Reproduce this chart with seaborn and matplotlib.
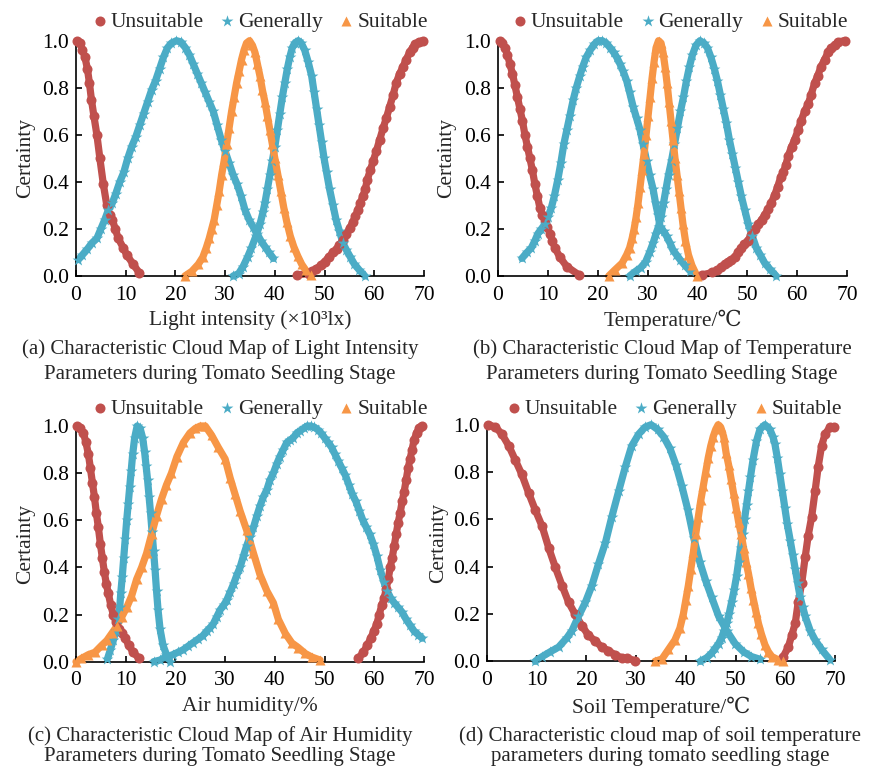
import matplotlib
matplotlib.use("Agg")
import matplotlib.pyplot as plt
import seaborn as sns
import pandas as pd

# ---- data (x, certainty) ----
# (a) light intensity
A_UNS1_X = [0.3, 0.8, 1.3, 1.8, 2.3, 2.7, 3.1, 3.6, 4.2, 4.8, 5.5, 6.2, 6.8, 7.3, 7.9, 8.5, 9.5, 10.2, 11.5, 12.7]
A_UNS1_Y = [1.0, 0.99, 0.96, 0.93, 0.88, 0.82, 0.75, 0.68, 0.6, 0.5, 0.39, 0.3, 0.26, 0.24, 0.2, 0.16, 0.12, 0.09, 0.05, 0.014]
A_UNS2_X = [44.5, 46.8, 47.5, 48.3, 49.2, 50.0, 50.8, 51.7, 52.4, 53.0, 53.7, 54.4, 55.1, 55.7, 56.2, 56.7, 57.2, 57.7, 58.2,
            58.6, 59.2, 59.8, 60.4, 61.1, 61.8, 62.4, 63.1, 63.8, 64.4, 65.1, 65.8, 66.4, 67.1, 67.7, 68.2, 69.0, 69.8]
A_UNS2_Y = [0.005, 0.01, 0.02, 0.03, 0.045, 0.06, 0.08, 0.1, 0.115, 0.13, 0.155, 0.18, 0.205, 0.23, 0.255, 0.28, 0.31, 0.34, 0.37,
            0.41, 0.45, 0.49, 0.53, 0.58, 0.63, 0.67, 0.72, 0.77, 0.82, 0.86, 0.89, 0.92, 0.95, 0.97, 0.985, 0.995, 1.0]
A_GEN1_X = [0.5, 1.3, 2.3, 3.2, 4.2, 5.0, 5.8, 6.5, 7.3, 8.0, 8.8, 9.6, 10.4, 11.2, 12.0, 12.8, 13.6, 14.4, 15.2, 16.0, 16.8,
            17.6, 18.4, 19.2, 20.2, 21.1, 22.0, 22.8, 23.6, 24.4, 25.2, 26.0, 26.8, 27.6, 28.4, 29.2, 30.0, 30.8, 31.6, 32.4,
            33.2, 34.0, 34.8, 35.6, 36.4, 37.2, 38.0, 38.8, 39.7]
A_GEN1_Y = [0.07, 0.09, 0.115, 0.14, 0.16, 0.2, 0.24, 0.28, 0.31, 0.35, 0.4, 0.44, 0.5, 0.55, 0.59, 0.64, 0.69, 0.74, 0.79, 0.83,
            0.88, 0.93, 0.97, 0.99, 1.0, 0.995, 0.97, 0.94, 0.9, 0.86, 0.82, 0.78, 0.74, 0.7, 0.64, 0.58, 0.53, 0.48, 0.43, 0.39,
            0.34, 0.28, 0.24, 0.21, 0.18, 0.15, 0.125, 0.1, 0.075]
A_GEN2_X = [31.6, 32.7, 33.6, 34.5, 35.3, 36.2, 37.0, 37.6, 38.0, 38.5, 39.0, 39.5, 40.0, 40.5, 41.0, 41.5, 42.0, 42.5, 43.0,
            43.5, 44.0, 44.7, 45.3, 46.0, 46.7, 47.4, 47.9, 48.4, 48.9, 49.4, 49.9, 50.4, 51.0, 51.7, 52.3, 53.0, 53.7, 54.4,
            55.2, 56.0, 57.0, 58.1]
A_GEN2_Y = [0.0, 0.01, 0.04, 0.08, 0.12, 0.17, 0.22, 0.27, 0.31, 0.37, 0.43, 0.49, 0.55, 0.62, 0.69, 0.76, 0.82, 0.88, 0.93,
            0.97, 0.99, 1.0, 0.99, 0.96, 0.91, 0.85, 0.78, 0.71, 0.64, 0.57, 0.5, 0.44, 0.37, 0.3, 0.24, 0.19, 0.14, 0.11,
            0.08, 0.05, 0.025, 0.0]
A_SUIT_X = [21.9, 23.3, 24.6, 25.5, 26.2, 26.8, 27.3, 27.8, 28.3, 28.8, 29.3, 29.8, 30.3, 30.8, 31.3, 31.8, 32.3, 32.8, 33.3,
            33.8, 34.3, 34.9, 35.5, 36.0, 36.5, 37.0, 37.5, 38.0, 38.5, 39.0, 39.5, 40.0, 40.6, 41.2, 41.8, 42.4, 43.1, 43.8,
            44.6, 45.4, 46.2, 47.2]
A_SUIT_Y = [0.0, 0.02, 0.05, 0.08, 0.12, 0.16, 0.2, 0.24, 0.3, 0.36, 0.43, 0.49, 0.56, 0.63, 0.7, 0.76, 0.82, 0.87, 0.92,
            0.96, 0.99, 1.0, 0.98, 0.95, 0.9, 0.85, 0.79, 0.74, 0.68, 0.62, 0.56, 0.5, 0.43, 0.36, 0.29, 0.23, 0.17, 0.125,
            0.085, 0.05, 0.025, 0.005]

# (b) temperature
B_UNS1_X = [0.4, 0.9, 1.4, 1.9, 2.4, 2.9, 3.4, 3.9, 4.4, 4.9, 5.4, 5.9, 6.4, 6.9, 7.4, 7.9, 8.4, 8.9, 9.4, 9.9, 10.4, 10.9,
            11.4, 12.4, 13.8, 16.2]
B_UNS1_Y = [1.0, 0.99, 0.97, 0.94, 0.9, 0.86, 0.81, 0.76, 0.71, 0.66, 0.6, 0.55, 0.5, 0.45, 0.39, 0.34, 0.29, 0.26, 0.24, 0.21,
            0.18, 0.15, 0.12, 0.08, 0.04, 0.005]
B_UNS2_X = [41.0, 43.0, 44.0, 44.8, 45.5, 46.1, 46.8, 47.5, 48.1, 48.8, 49.4, 50.1, 50.8, 51.5, 52.2, 52.9, 53.5, 54.2, 54.8,
            55.5, 56.1, 56.7, 57.2, 57.7, 58.2, 58.9, 59.5, 60.2, 60.8, 61.5, 62.2, 62.8, 63.5, 64.1, 64.8, 65.5, 66.2, 66.8,
            67.5, 68.2, 69.5]
B_UNS2_Y = [0.005, 0.015, 0.025, 0.04, 0.05, 0.06, 0.07, 0.08, 0.1, 0.12, 0.135, 0.15, 0.175, 0.2, 0.22, 0.24, 0.26, 0.285,
            0.31, 0.345, 0.38, 0.42, 0.44, 0.47, 0.51, 0.55, 0.58, 0.62, 0.66, 0.7, 0.73, 0.77, 0.82, 0.85, 0.89, 0.92, 0.95,
            0.97, 0.98, 0.995, 1.0]
B_GEN1_X = [4.8, 5.8, 6.7, 7.4, 8.0, 8.7, 9.4, 10.0, 10.7, 11.3, 12.0, 12.6, 13.2, 13.8, 14.4, 15.1, 15.7, 16.4, 17.0, 17.7,
            18.5, 19.3, 20.1, 20.9, 21.7, 22.5, 23.2, 23.8, 24.5, 25.1, 25.8, 26.4, 27.1, 27.8, 28.5, 29.1, 29.8, 30.4, 31.1,
            31.6, 32.1, 32.5, 33.2, 33.8, 34.5, 35.1, 35.8, 36.5, 37.5, 38.6]
B_GEN1_Y = [0.075, 0.1, 0.12, 0.15, 0.18, 0.2, 0.22, 0.25, 0.29, 0.34, 0.41, 0.48, 0.56, 0.62, 0.68, 0.75, 0.8, 0.85, 0.89,
            0.93, 0.96, 0.985, 1.0, 1.0, 0.99, 0.97, 0.95, 0.93, 0.9, 0.87, 0.83, 0.78, 0.72, 0.67, 0.62, 0.56, 0.49, 0.43,
            0.37, 0.31, 0.26, 0.21, 0.19, 0.17, 0.14, 0.11, 0.09, 0.07, 0.045, 0.02]
B_GEN2_X = [26.4, 27.6, 28.6, 29.6, 30.4, 31.1, 31.7, 32.2, 32.7, 33.2, 33.7, 34.2, 34.8, 35.4, 36.0, 36.6, 37.2, 37.8, 38.4,
            39.0, 39.7, 40.5, 41.3, 42.0, 42.7, 43.4, 44.0, 44.6, 45.2, 45.8, 46.4, 47.0, 47.6, 48.2, 48.8, 49.5, 50.2, 51.0,
            51.8, 52.6, 53.5, 54.5, 55.8]
B_GEN2_Y = [0.0, 0.02, 0.035, 0.06, 0.1, 0.14, 0.18, 0.21, 0.25, 0.31, 0.37, 0.43, 0.49, 0.56, 0.63, 0.7, 0.76, 0.83, 0.89,
            0.94, 0.98, 1.0, 0.99, 0.97, 0.93, 0.88, 0.83, 0.77, 0.71, 0.65, 0.58, 0.52, 0.46, 0.4, 0.34, 0.28, 0.22, 0.17,
            0.12, 0.09, 0.055, 0.03, 0.0]
B_SUIT_X = [22.2, 23.4, 24.9, 25.8, 26.4, 26.9, 27.3, 27.7, 28.1, 28.5, 28.9, 29.3, 29.7, 30.1, 30.5, 30.9, 31.3, 31.7, 32.2,
            32.7, 33.1, 33.5, 33.9, 34.3, 34.7, 35.1, 35.5, 35.9, 36.3, 36.7, 37.1, 37.6, 38.2, 38.9, 39.9]
B_SUIT_Y = [0.0, 0.025, 0.055, 0.09, 0.12, 0.16, 0.2, 0.25, 0.31, 0.38, 0.45, 0.52, 0.6, 0.68, 0.76, 0.84, 0.91, 0.97, 1.0,
            0.99, 0.95, 0.89, 0.82, 0.74, 0.66, 0.58, 0.5, 0.43, 0.36, 0.29, 0.22, 0.15, 0.09, 0.045, 0.0]

# (c) air humidity
C_UNS1_X = [0.3, 0.9, 1.5, 2.0, 2.5, 2.9, 3.3, 3.7, 4.1, 4.5, 4.9, 5.3, 5.7, 6.1, 6.5, 7.0, 7.5, 8.0, 8.6, 9.2, 9.9, 10.6,
            11.5, 12.7]
C_UNS1_Y = [1.0, 0.99, 0.97, 0.93, 0.88, 0.82, 0.76, 0.7, 0.63, 0.57, 0.5, 0.44, 0.38, 0.33, 0.29, 0.24, 0.2, 0.17, 0.14,
            0.12, 0.1, 0.07, 0.04, 0.014]
C_UNS2_X = [56.8, 57.8, 58.6, 59.3, 59.9, 60.5, 61.0, 61.5, 62.0, 62.4, 62.8, 63.2, 63.6, 64.0, 64.4, 64.8, 65.2, 65.6, 66.0,
            66.4, 66.8, 67.2, 67.6, 68.0, 68.5, 69.0, 69.5]
C_UNS2_Y = [0.014, 0.04, 0.07, 0.1, 0.13, 0.16, 0.2, 0.24, 0.27, 0.31, 0.35, 0.4, 0.44, 0.49, 0.54, 0.59, 0.63, 0.68, 0.72,
            0.77, 0.82, 0.86, 0.9, 0.94, 0.97, 0.99, 1.0]
C_GEN1_X = [6.3, 6.9, 7.5, 8.0, 8.5, 8.8, 9.0, 9.3, 9.6, 9.9, 10.2, 10.5, 10.8, 11.1, 11.4, 11.8, 12.3, 12.9, 13.4, 13.8,
            14.1, 14.4, 14.7, 15.0, 15.3, 15.6, 15.9, 16.2, 16.5, 16.9, 17.5, 18.2, 18.9]
C_GEN1_Y = [0.01, 0.05, 0.09, 0.13, 0.18, 0.23, 0.29, 0.36, 0.44, 0.52, 0.6, 0.67, 0.74, 0.81, 0.88, 0.95, 1.0, 0.99, 0.95,
            0.89, 0.83, 0.77, 0.7, 0.63, 0.55, 0.47, 0.39, 0.3, 0.22, 0.14, 0.07, 0.03, 0.0]
C_GEN2_X = [15.6, 16.9, 18.2, 19.5, 20.5, 21.5, 22.5, 23.5, 24.5, 25.5, 26.3, 27.0, 27.6, 28.3, 29.0, 29.7, 30.3, 31.0, 31.7,
            32.4, 33.0, 33.7, 34.3, 35.0, 35.7, 36.4, 37.0, 37.7, 38.4, 39.0, 39.7, 40.4, 41.0, 41.7, 42.4, 43.1, 43.7, 44.4,
            45.1, 45.8, 46.5, 47.2, 47.9, 48.6, 49.3, 50.0, 50.7, 51.4, 52.1, 52.8, 53.5, 54.2, 54.9, 55.6, 56.3, 57.0, 57.7,
            58.4, 59.1, 59.8, 60.5, 61.2, 61.9, 62.6, 63.3, 64.0, 64.8, 65.6, 66.4, 67.2, 68.0, 68.8, 69.6]
C_GEN2_Y = [0.0, 0.007, 0.02, 0.03, 0.04, 0.05, 0.065, 0.08, 0.095, 0.11, 0.13, 0.145, 0.16, 0.19, 0.22, 0.24, 0.26, 0.295,
            0.33, 0.37, 0.4, 0.45, 0.49, 0.53, 0.57, 0.62, 0.66, 0.7, 0.73, 0.77, 0.8, 0.84, 0.87, 0.9, 0.93, 0.94, 0.95, 0.97,
            0.98, 0.99, 1.0, 1.0, 0.995, 0.985, 0.97, 0.95, 0.93, 0.91, 0.88, 0.85, 0.82, 0.79, 0.75, 0.71, 0.68, 0.64, 0.6,
            0.57, 0.54, 0.5, 0.45, 0.39, 0.34, 0.3, 0.27, 0.25, 0.23, 0.21, 0.18, 0.155, 0.13, 0.115, 0.1]
C_SUIT_X = [0.0, 1.1, 2.5, 3.8, 5.2, 6.2, 7.2, 8.2, 9.2, 10.2, 11.2, 12.2, 13.2, 14.2, 15.2, 16.2, 17.2, 18.2, 19.2, 20.3,
            21.6, 22.9, 24.0, 25.0, 26.0, 27.3, 28.6, 30.0, 31.0, 32.0, 33.0, 34.3, 35.7, 37.0, 38.4, 39.7, 40.7, 42.1, 43.4,
            44.7, 46.1, 47.4, 49.1]
C_SUIT_Y = [0.0, 0.014, 0.03, 0.04, 0.07, 0.09, 0.12, 0.15, 0.19, 0.23, 0.28, 0.35, 0.4, 0.46, 0.54, 0.62, 0.69, 0.75, 0.8,
            0.87, 0.93, 0.97, 0.99, 1.0, 1.0, 0.96, 0.91, 0.86, 0.78, 0.71, 0.64, 0.56, 0.46, 0.37, 0.3, 0.25, 0.18, 0.12,
            0.08, 0.06, 0.035, 0.02, 0.007]

# (d) soil temperature
D_UNS1_X = [0.3, 1.7, 3.0, 4.4, 5.7, 7.0, 8.4, 9.7, 11.1, 12.4, 13.7, 15.1, 16.4, 17.7, 19.1, 20.4, 21.8, 23.1, 24.4, 25.8,
            27.1, 28.1, 29.8]
D_UNS1_Y = [1.0, 0.99, 0.96, 0.91, 0.85, 0.79, 0.71, 0.64, 0.57, 0.48, 0.4, 0.32, 0.25, 0.2, 0.15, 0.11, 0.085, 0.06, 0.045,
            0.027, 0.015, 0.013, 0.003]
D_UNS2_X = [59.6, 60.6, 61.3, 62.0, 62.6, 63.3, 64.0, 64.6, 65.3, 66.0, 66.6, 67.3, 68.0, 69.0, 69.7]
D_UNS2_Y = [0.02, 0.06, 0.11, 0.16, 0.25, 0.33, 0.44, 0.53, 0.61, 0.72, 0.82, 0.91, 0.96, 0.99, 0.99]
D_GEN1_X = [9.7, 11.1, 12.7, 14.4, 16.1, 17.1, 18.4, 19.8, 21.1, 22.4, 23.8, 25.1, 26.5, 27.8, 29.1, 30.5, 31.8, 33.0, 34.3,
            35.5, 36.8, 38.0, 39.2, 40.4, 41.6, 42.8, 44.0, 45.2, 46.6, 48.2, 49.9, 51.6, 53.2, 55.0]
D_GEN1_Y = [0.0, 0.02, 0.04, 0.06, 0.1, 0.13, 0.19, 0.25, 0.32, 0.41, 0.5, 0.61, 0.72, 0.82, 0.91, 0.96, 0.99, 1.0, 0.98,
            0.95, 0.9, 0.83, 0.74, 0.64, 0.52, 0.42, 0.34, 0.27, 0.19, 0.13, 0.075, 0.04, 0.02, 0.008]
D_GEN2_X = [42.9, 44.2, 45.2, 45.9, 46.6, 47.2, 47.7, 48.2, 48.7, 49.2, 49.7, 50.2, 50.6, 51.0, 51.4, 51.8, 52.2, 52.6, 53.0,
            53.5, 54.2, 54.9, 55.9, 56.9, 57.5, 57.9, 58.4, 58.9, 59.4, 59.9, 60.4, 61.0, 61.5, 62.0, 62.5, 63.0, 63.5, 64.0,
            65.0, 66.0, 67.3, 69.0]
D_GEN2_Y = [0.0, 0.015, 0.035, 0.055, 0.075, 0.1, 0.13, 0.16, 0.2, 0.25, 0.3, 0.36, 0.42, 0.48, 0.54, 0.6, 0.66, 0.72, 0.78,
            0.85, 0.93, 0.98, 1.0, 0.98, 0.95, 0.92, 0.86, 0.79, 0.72, 0.65, 0.58, 0.51, 0.45, 0.39, 0.33, 0.27, 0.23, 0.19,
            0.13, 0.09, 0.05, 0.006]
D_SUIT_X = [33.8, 35.2, 36.5, 37.8, 38.8, 39.5, 40.0, 40.5, 41.0, 41.5, 42.0, 42.5, 43.0, 43.5, 44.0, 44.5, 45.0, 45.5, 46.0,
            46.5, 47.0, 47.6, 48.1, 48.6, 49.1, 49.6, 50.1, 50.6, 51.1, 51.6, 52.1, 52.6, 53.1, 53.6, 54.1, 54.6, 55.2, 55.9,
            56.6, 57.3, 58.6, 59.6]
D_SUIT_Y = [0.0, 0.01, 0.05, 0.09, 0.14, 0.2, 0.26, 0.32, 0.39, 0.46, 0.54, 0.61, 0.68, 0.74, 0.8, 0.86, 0.91, 0.95, 0.98,
            1.0, 0.99, 0.95, 0.88, 0.83, 0.77, 0.71, 0.65, 0.59, 0.54, 0.48, 0.42, 0.37, 0.31, 0.26, 0.21, 0.16, 0.115, 0.07,
            0.04, 0.02, 0.006, 0.0]

X_TICKS = [0, 10, 20, 30, 40, 50, 60, 70]
Y_TICKS = [0.0, 0.2, 0.4, 0.6, 0.8, 1.0]
LEVELS = ["Unsuitable", "Generally", "Suitable"]
X_LABELS = ["Light intensity (×10³lx)", "Temperature/℃", "Air humidity/%", "Soil Temperature/℃"]
CAPTIONS = [
    ("(a) Characteristic Cloud Map of Light Intensity", "Parameters during Tomato Seedling Stage"),
    ("(b) Characteristic Cloud Map of Temperature", "Parameters during Tomato Seedling Stage"),
    ("(c) Characteristic Cloud Map of Air Humidity", "Parameters during Tomato Seedling Stage"),
    ("(d) Characteristic cloud map of soil temperature", "parameters during tomato seedling stage"),
]

PANELS = [
    [("Unsuitable", A_UNS1_X, A_UNS1_Y), ("Unsuitable", A_UNS2_X, A_UNS2_Y), ("Generally", A_GEN1_X, A_GEN1_Y),
     ("Generally", A_GEN2_X, A_GEN2_Y), ("Suitable", A_SUIT_X, A_SUIT_Y)],
    [("Unsuitable", B_UNS1_X, B_UNS1_Y), ("Unsuitable", B_UNS2_X, B_UNS2_Y), ("Generally", B_GEN1_X, B_GEN1_Y),
     ("Generally", B_GEN2_X, B_GEN2_Y), ("Suitable", B_SUIT_X, B_SUIT_Y)],
    [("Unsuitable", C_UNS1_X, C_UNS1_Y), ("Unsuitable", C_UNS2_X, C_UNS2_Y), ("Generally", C_GEN1_X, C_GEN1_Y),
     ("Generally", C_GEN2_X, C_GEN2_Y), ("Suitable", C_SUIT_X, C_SUIT_Y)],
    [("Unsuitable", D_UNS1_X, D_UNS1_Y), ("Unsuitable", D_UNS2_X, D_UNS2_Y), ("Generally", D_GEN1_X, D_GEN1_Y),
     ("Generally", D_GEN2_X, D_GEN2_Y), ("Suitable", D_SUIT_X, D_SUIT_Y)],
]

COLORS = {"Unsuitable": "#C0504D", "Generally": "#4BACC6", "Suitable": "#F79646"}
MARKERS = {"Unsuitable": "o", "Generally": "*", "Suitable": "^"}
SIZES = {"Unsuitable": 52, "Generally": 80, "Suitable": 52}

sns.set_style("ticks")
plt.rcParams["font.family"] = ["Liberation Serif", "DejaVu Serif", "Noto Sans CJK SC"]

fig = plt.figure(figsize=(8.7, 7.67), dpi=100)
W, H = 870, 767
# axes boxes in pixels: left, top, right, bottom
BOXES = [(76, 40.7, 424, 276), (498, 40.7, 847, 276), (76, 426, 424, 661.7), (487, 424.7, 835, 661.3)]
LEG_X = [0.53, 0.524, 0.53, 0.539]
YLAB_X = [-0.145, -0.148, -0.145, -0.14]
CAP_X = [220, 662, 220, 660]

for i, curves in enumerate(PANELS):
    l, t, r, b = BOXES[i]
    ax = fig.add_axes([l / W, 1 - b / H, (r - l) / W, (b - t) / H])
    rows = []
    for k, (lev, xs, ys) in enumerate(curves):
        for x, y in zip(xs, ys):
            rows.append({"x": x, "y": y, "level": lev, "curve": k})
    df = pd.DataFrame(rows)

    for lev in LEVELS:
        sub = df[df["level"] == lev]
        sns.lineplot(data=sub, x="x", y="y", units="curve", estimator=None, sort=False,
                     color=COLORS[lev], lw=5.2, legend=False, ax=ax, clip_on=False, zorder=2)
        sns.scatterplot(data=sub, x="x", y="y", color=COLORS[lev], marker=MARKERS[lev], s=SIZES[lev],
                        linewidth=0, label=lev, ax=ax, clip_on=False, zorder=3)

    ax.set_xlim(0, 70)
    ax.set_ylim(0, 1.0)
    ax.set_xticks(X_TICKS)
    ax.set_yticks(Y_TICKS)
    ax.set_yticklabels([f"{v:.1f}" for v in Y_TICKS])
    ax.tick_params(direction="in", length=4, width=1.2, labelsize=15.5, colors="black")
    ax.tick_params(axis="x", pad=7)
    ax.tick_params(axis="y", pad=5)
    sns.despine(ax=ax)
    for sp in ("left", "bottom"):
        ax.spines[sp].set_linewidth(1.2)
        ax.spines[sp].set_color("black")

    ax.set_ylabel("Certainty", fontsize=15.5)
    ax.yaxis.set_label_coords(YLAB_X[i], 0.5)
    ax.yaxis.label.set_va("center")
    ax.set_xlabel("")

    xl_y = 320 if i < 2 else 707
    cx = (l + r) / 2
    fig.text(cx / W, 1 - xl_y / H, X_LABELS[i], ha="center", va="center", fontsize=15.5)
    c1, c2 = (349, 374) if i < 2 else (736, 757)
    fig.text(CAP_X[i] / W, 1 - c1 / H, CAPTIONS[i][0], ha="center", va="center", fontsize=15)
    fig.text(CAP_X[i] / W, 1 - c2 / H, CAPTIONS[i][1], ha="center", va="center", fontsize=15)

    leg_y = (b - (22 if i < 2 else 409)) / (b - t)
    ax.legend(loc="center", bbox_to_anchor=(LEG_X[i], leg_y), ncol=3, frameon=False, fontsize=15.5,
              handletextpad=0.2, columnspacing=0.8, handlelength=0.6, borderaxespad=0, borderpad=0)

fig.savefig("out.png", dpi=100)
